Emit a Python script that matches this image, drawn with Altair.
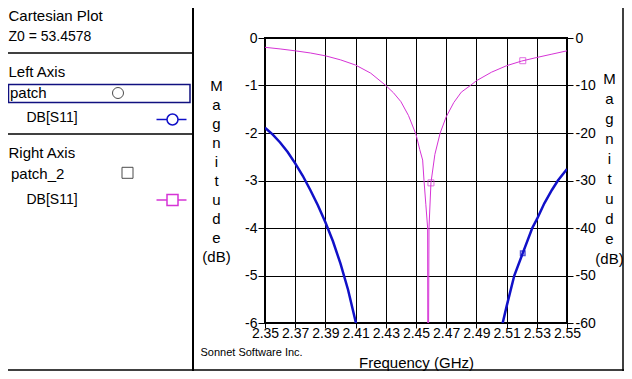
import altair as alt
import pandas as pd

FONT = "Liberation Sans"

# ---- data ----
# patch  DB[S11]  (left axis, dB)  -- two visible branches
blue_freq_a = [2.35, 2.355, 2.36, 2.365, 2.37, 2.375, 2.38, 2.385, 2.39, 2.395, 2.40, 2.405, 2.41, 2.415]
blue_db_a = [-1.89, -2.03, -2.2, -2.4, -2.64, -2.9, -3.2, -3.52, -3.88, -4.28, -4.75, -5.3, -5.97, -6.8]
blue_freq_b = [2.505, 2.5074, 2.51, 2.5151, 2.5207, 2.527, 2.53, 2.535, 2.54, 2.544, 2.55]
blue_db_b = [-6.35, -6.0, -5.65, -5.0, -4.53, -4.0, -3.82, -3.48, -3.2, -3.0, -2.76]
blue_marker_freq = [2.5207]
blue_marker_db = [-4.53]

# patch_2  DB[S11]  (right axis, dB)
mag_freq = [2.35, 2.36, 2.37, 2.38, 2.39, 2.40, 2.41, 2.42, 2.43, 2.435, 2.44, 2.445,
            2.45, 2.4525, 2.4544, 2.4553, 2.4565, 2.4577, 2.4579, 2.4581, 2.4586,
            2.4599, 2.4625, 2.466, 2.47, 2.475, 2.48, 2.486, 2.49, 2.50, 2.51, 2.52,
            2.53, 2.54, 2.55]
mag_db = [-1.96, -2.3, -2.7, -3.15, -3.75, -4.6, -5.7, -7.4, -10.0, -11.5, -13.4, -16.3,
          -20.3, -23.5, -25.7, -30.0, -35.0, -40.0, -80.0, -80.0, -40.0,
          -30.5, -24.5, -20.0, -16.6, -13.6, -11.4, -10.0, -9.0, -7.2, -5.83, -4.85,
          -4.1, -3.4, -2.7]
mag_marker_freq = [2.4599, 2.5207]
mag_marker_db = [-30.5, -4.78]

x_ticks = [2.35, 2.37, 2.39, 2.41, 2.43, 2.45, 2.47, 2.49, 2.51, 2.53, 2.55]
left_ticks = [0, -1, -2, -3, -4, -5, -6]
right_ticks = [0, -10, -20, -30, -40, -50, -60]
axis_letters_left = ["M", "a", "g", "n", "i", "t", "u", "d", "e", "", "(dB)"]
axis_letters_right = ["M", "a", "g", "n", "i", "t", "u", "d", "e", "", "(dB)"]

BLUE = "#1010C8"
MAG = "#D633D6"
NAVY = "#101080"

blue_df = pd.DataFrame({
    "freq": blue_freq_a + blue_freq_b,
    "db": blue_db_a + blue_db_b,
    "seg": ["a"] * len(blue_freq_a) + ["b"] * len(blue_freq_b),
})
blue_mk = pd.DataFrame({"freq": blue_marker_freq, "db": blue_marker_db})
mag_df = pd.DataFrame({"freq": mag_freq, "db": mag_db})
mag_mk = pd.DataFrame({"freq": mag_marker_freq, "db": mag_marker_db})

xscale = alt.Scale(domain=[2.35, 2.55], nice=False, zero=False)
yl_scale = alt.Scale(domain=[-6, 0], nice=False, zero=False)
yr_scale = alt.Scale(domain=[-60, 0], nice=False, zero=False)

x_axis = alt.Axis(values=x_ticks, format=".2f", grid=True, gridColor="black", gridOpacity=1,
                  gridWidth=1, domain=False, tickColor="black", tickSize=5, tickWidth=1,
                  labelFont=FONT, labelFontSize=14, labelColor="black", labelPadding=-2,
                  labelFlush=False, labelOverlap=False, labelBound=False,
                  title="Frequency (GHz)", titleFont=FONT, titleFontSize=15,
                  titleFontWeight="normal", titleColor="black", titleBaseline="alphabetic",
                  titleY=44)

yl_axis = alt.Axis(values=left_ticks, labelExpr="toString(datum.value)", grid=True,
                   gridColor="black", gridOpacity=1,
                   gridWidth=1, domain=False, tickColor="black", tickSize=7,
                   labelFont=FONT, labelFontSize=14, labelColor="black", labelPadding=1,
                   labelFlush=False, labelOverlap=False,
                   title=axis_letters_left, titleFont=FONT, titleFontSize=15,
                   titleFontWeight="normal", titleColor="black", titleAngle=0,
                   titleAlign="center", titleBaseline="alphabetic", titleX=-49, titleY=52,
                   titleLineHeight=19)

yr_axis = alt.Axis(values=right_ticks, labelExpr="toString(datum.value)", orient="right",
                   grid=False, domain=False,
                   tickColor="black", tickSize=6,
                   labelFont=FONT, labelFontSize=14, labelColor="black", labelPadding=2,
                   labelFlush=False, labelOverlap=False,
                   title=axis_letters_right, titleFont=FONT, titleFontSize=15,
                   titleFontWeight="normal", titleColor="black", titleAngle=0,
                   titleAlign="center", titleBaseline="alphabetic", titleX=42, titleY=45,
                   titleLineHeight=20)

blue_line = alt.Chart(blue_df).mark_line(color=BLUE, strokeWidth=2.5, clip=True).encode(
    x=alt.X("freq:Q", scale=xscale, axis=x_axis),
    y=alt.Y("db:Q", scale=yl_scale, axis=yl_axis),
    detail="seg:N",
)
blue_pts = alt.Chart(blue_mk).mark_point(shape="square", color=BLUE, size=20, strokeWidth=1.5,
                                         clip=True).encode(
    x=alt.X("freq:Q", scale=xscale, axis=x_axis),
    y=alt.Y("db:Q", scale=yl_scale, axis=yl_axis),
)
left_layer = alt.layer(blue_line, blue_pts)

mag_line = alt.Chart(mag_df).mark_line(color=MAG, strokeWidth=1, clip=True).encode(
    x=alt.X("freq:Q", scale=xscale, axis=x_axis),
    y=alt.Y("db:Q", scale=yr_scale, axis=yr_axis),
)
mag_pts = alt.Chart(mag_mk).mark_point(shape="square", color=MAG, size=36, strokeWidth=1,
                                       clip=True).encode(
    x=alt.X("freq:Q", scale=xscale, axis=x_axis),
    y=alt.Y("db:Q", scale=yr_scale, axis=yr_axis),
)
right_layer = alt.layer(mag_line, mag_pts)

one = pd.DataFrame({"k": [0]})


def txt(s, x, y, size=15, color="black"):
    return alt.Chart(one).mark_text(text=s, font=FONT, fontSize=size, color=color,
                                    align="left", baseline="alphabetic").encode(
        x=alt.value(x), y=alt.value(y))


def rule(x1, y1, x2, y2, color="black", w=1):
    return alt.Chart(one).mark_rule(color=color, strokeWidth=w).encode(
        x=alt.value(x1), y=alt.value(y1), x2=alt.value(x2), y2=alt.value(y2))


def sym(shape, x, y, size, color):
    return alt.Chart(one).mark_point(shape=shape, size=size, color=color, strokeWidth=1,
                                     filled=False).encode(x=alt.value(x), y=alt.value(y))


# pixel offsets are relative to the plot origin (screen 265, 38)
deco = [
    rule(-72, -30, -72, 341, w=2),           # panel divider
    rule(-257, 15, -72, 15, w=1.5),
    rule(-257, 96, -72, 96, w=1.5),
    rule(358, -30, 358, 341, w=1.5),          # outer border right
    rule(-257, 332, 359, 332, w=1.5),         # outer border bottom
    txt("Cartesian Plot", -256.5, -17, 15),
    txt("Z0 = 53.4578", -256.5, 3, 14),
    txt("Left Axis", -256.5, 39, 15),
    alt.Chart(one).mark_rect(fill=None, fillOpacity=0, stroke=NAVY, strokeWidth=1.5).encode(
        x=alt.value(-256.5), x2=alt.value(-75), y=alt.value(46.5), y2=alt.value(64.5)),
    txt("patch", -255, 60, 15),
    sym("circle", -147, 55, 121, "black"),
    txt("DB[S11]", -238.5, 83.5, 14),
    rule(-108.5, 81.5, -78.5, 81.5, color=BLUE, w=1.5),
    alt.Chart(one).mark_point(shape="circle", size=121, color=BLUE, fill="white", filled=True,
                              stroke=BLUE, strokeWidth=1.5, opacity=1).encode(
        x=alt.value(-92.5), y=alt.value(81.5)),
    txt("Right Axis", -256.5, 119.5, 15),
    txt("patch_2", -254, 140.5, 15),
    sym("square", -137.5, 134.8, 121, "black"),
    txt("DB[S11]", -238.5, 166, 14),
    rule(-108.5, 162, -78.5, 162, color=MAG, w=1.5),
    alt.Chart(one).mark_point(shape="square", size=121, color=MAG, fill="white", filled=True,
                              stroke=MAG, strokeWidth=1.5, opacity=1).encode(
        x=alt.value(-92.5), y=alt.value(162)),
    txt("Sonnet Software Inc.", -64.5, 318, 11),
]

chart = alt.layer(left_layer, right_layer, *deco).resolve_scale(
    y="independent"
).properties(
    width=302, height=285,
    autosize=alt.AutoSizeParams(type="none"),
    padding={"left": 257, "top": 30, "right": 57, "bottom": 48},
    background="white",
).configure_view(stroke="black", strokeWidth=2)

chart.save("out.html", embed_options={"renderer": "svg", "actions": False})
